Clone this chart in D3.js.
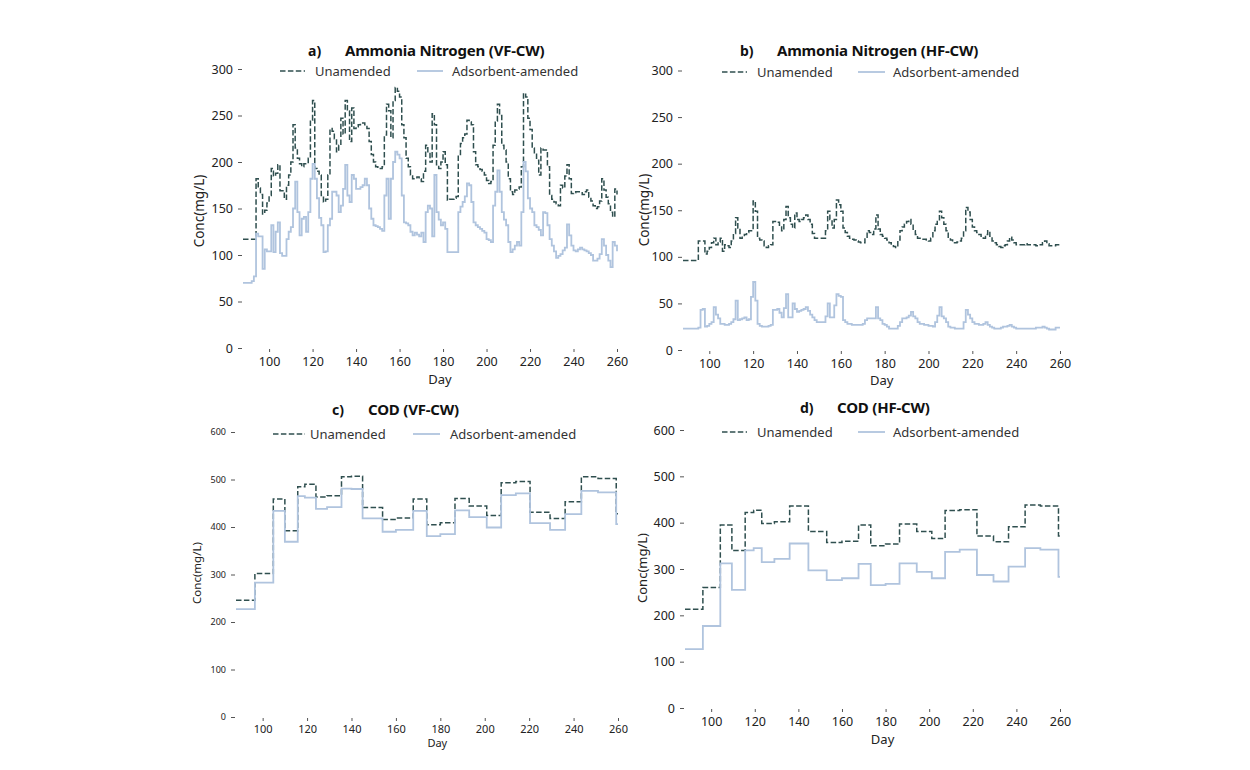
<!DOCTYPE html>
<html>
<head>
<meta charset="utf-8">
<script src="https://cdn.jsdelivr.net/npm/d3@7"></script>
<style>
body { margin: 0; background: #fff; }
svg { display: block; font-family: "Noto Sans", "Open Sans", sans-serif; }
</style>
</head>
<body>
<svg id="chart" width="1250" height="770"></svg>
<script>
// daily readings, day 88 to 260, shared by both ammonia panels
const ammoniaDays = [88,89,90,91,92,93,94,95,96,97,98,99,100,101,102,103,104,105,106,107,
  108,109,110,111,112,113,114,115,116,117,118,119,120,121,122,123,124,125,126,127,
  128,129,130,131,132,133,134,135,136,137,138,139,140,141,142,143,144,145,146,147,
  148,149,150,151,152,153,154,155,156,157,158,159,160,161,162,163,164,165,166,167,
  168,169,170,171,172,173,174,175,176,177,178,179,180,181,182,183,184,185,186,187,
  188,189,190,191,192,193,194,195,196,197,198,199,200,201,202,203,204,205,206,207,
  208,209,210,211,212,213,214,215,216,217,218,219,220,221,222,223,224,225,226,227,
  228,229,230,231,232,233,234,235,236,237,238,239,240,241,242,243,244,245,246,247,
  248,249,250,251,252,253,254,255,256,257,258,259,260];

const vfAmmoniaUnamended = [117,117,117,117,117,117,182,172,165,144,
  148,156,164,193,185,188,197,169,169,160,
  175,186,200,240,215,204,198,195,198,198,
  204,245,266,193,190,186,164,157,160,186,
  236,233,225,211,218,247,230,266,255,222,
  258,236,238,240,242,242,240,236,222,208,
  200,195,193,193,195,229,262,255,226,266,
  280,276,270,240,226,204,195,186,182,183,
  184,182,179,190,218,210,200,252,240,197,
  193,200,211,197,159,160,160,161,163,208,
  220,226,230,245,243,240,211,197,195,192,
  190,186,180,177,179,218,244,262,250,218,
  213,200,182,168,165,170,171,173,195,274,
  270,247,235,215,210,202,186,215,213,213,
  195,164,160,157,155,153,175,172,185,197,
  182,166,167,168,168,168,165,168,170,162,
  158,153,150,152,158,182,170,162,155,146,
  141,171,165];
const vfAmmoniaAmended = [70,70,70,70,72,77,123,120,120,85,
  106,104,104,132,103,125,135,102,99,99,
  117,125,130,150,179,146,121,139,141,125,
  146,182,198,182,161,140,132,103,104,132,
  139,168,168,164,146,153,171,197,164,157,
  186,182,171,171,173,175,182,175,150,139,
  132,131,130,128,126,164,182,139,182,200,
  211,208,204,164,135,134,132,125,121,124,
  122,120,124,114,146,153,150,120,186,146,
  138,132,135,128,103,103,103,103,103,146,
  152,157,163,177,175,157,135,132,130,128,
  126,124,117,116,114,153,168,191,168,146,
  138,132,114,103,106,110,114,110,146,200,
  190,161,150,146,132,130,127,121,146,145,
  132,117,110,104,97,99,101,105,108,133,
  121,110,105,104,106,108,106,105,104,102,
  100,94,94,96,101,117,110,100,94,87,
  114,110,104];

const hfAmmoniaUnamended = [96,96,96,96,96,96,96,117,117,117,
  103,106,110,115,120,113,116,120,106,113,
  112,110,117,125,142,131,120,122,124,126,
  128,128,160,149,120,118,117,112,110,112,
  113,138,138,137,132,128,140,154,142,135,
  131,147,140,138,140,142,145,140,135,125,
  120,120,120,120,120,128,149,140,131,140,
  161,156,149,131,126,122,120,119,118,117,
  116,115,115,120,128,126,124,130,145,130,
  124,122,120,118,115,113,111,110,118,128,
  132,135,138,140,135,128,124,120,120,119,
  119,118,117,120,128,135,138,149,142,135,
  128,120,118,115,115,116,117,120,128,153,
  148,140,132,128,126,124,122,120,124,128,
  122,117,115,113,111,110,112,113,117,121,
  118,115,113,113,113,113,114,113,113,113,
  113,112,112,113,115,117,114,112,112,112,
  113,113,113];
const hfAmmoniaAmended = [23,23,23,23,23,23,23,24,43,44,
  25,26,28,30,46,38,34,28,28,27,
  27,28,30,33,53,32,33,34,35,32,
  33,57,73,53,28,26,25,25,25,26,
  27,43,43,44,40,35,45,60,35,35,
  50,44,41,42,43,44,46,42,38,35,
  32,30,30,30,30,36,50,35,35,48,
  60,58,57,32,30,28,28,27,27,27,
  27,27,28,32,34,34,34,34,46,34,
  32,28,27,25,23,23,23,23,26,30,
  34,34,35,37,41,36,34,30,28,28,
  27,27,26,26,25,30,37,46,36,34,
  30,25,24,24,23,23,23,23,30,43,
  38,34,30,28,28,27,27,28,30,27,
  25,24,23,23,23,24,25,25,26,27,
  25,24,23,23,23,23,23,23,23,23,
  23,24,24,24,25,24,23,22,22,22,
  24,24,24];

// COD: days where the weekly step changes
const vfCodDays = [88,96.5,104.8,110,115.8,119,124,129,135.5,140,145,154,160,167.8,173.9,180,186.6,193,200.9,207.4,214,220.4,229.4,236.2,243.5,251,259.2];
const vfCodUnamended = [246,302,459,392,485,490,463,466,506,507,441,416,419,459,405,409,460,444,424,493,496,431,418,453,506,502,428];
const vfCodAmended = [227,283,434,369,465,462,438,442,481,480,418,390,394,434,381,385,435,421,399,467,471,408,394,427,476,473,406];

const hfCodDays = [88,96.2,104.2,109.5,115.6,119.5,123.2,129,136,144.6,153,160,167.6,173.2,180,186.4,194.3,201.2,207.3,214,221.9,229.5,236.4,244,251,259.3];
const hfCodUnamended = [213,260,395,340,422,427,398,402,436,381,357,360,395,350,354,397,381,366,426,428,371,359,391,438,436,371];
const hfCodAmended = [127,177,312,255,340,345,315,322,355,297,276,280,311,265,268,312,294,280,337,342,287,273,305,345,342,283];

const ammoniaTicks = [0,50,100,150,200,250,300];
const codTicks = [0,100,200,300,400,500,600];
const dayTicks = [100,120,140,160,180,200,220,240,260];
const seriesNames = ["Unamended", "Adsorbent-amended"];

const darkColor = "#2f4f4f";
const lightColor = "#b0c4de";

const svg = d3.select("#chart");

const panels = [
  {letter: "a)", title: "Ammonia Nitrogen (VF-CW)", days: ammoniaDays, un: vfAmmoniaUnamended, am: vfAmmoniaAmended,
   yTop: 300, yTicks: ammoniaTicks, x0: 243, x1: 617, y0: 348, y1: 69,
   letterX: 308, titleX: 345, titleY: 56, leg: [280, 305, 315, 417, 443, 452], legY: 71,
   yFont: 12.5, xFont: 12.5, xPad: 5, lab: [204, 211, 13.5], dayY: 384, dayFont: 13},
  {letter: "b)", title: "Ammonia Nitrogen (HF-CW)", days: ammoniaDays, un: hfAmmoniaUnamended, am: hfAmmoniaAmended,
   yTop: 300, yTicks: ammoniaTicks, x0: 683, x1: 1060, y0: 350, y1: 70.5,
   letterX: 740, titleX: 777, titleY: 56, leg: [722, 747, 757, 858, 885, 893], legY: 72,
   yFont: 12.5, xFont: 12.5, xPad: 5, lab: [649, 210, 13.5], dayY: 385, dayFont: 13},
  {letter: "c)", title: "COD (VF-CW)", days: vfCodDays, un: vfCodUnamended, am: vfCodAmended,
   yTop: 600, yTicks: codTicks, x0: 236, x1: 618, y0: 717, y1: 432,
   letterX: 332, titleX: 368, titleY: 415, leg: [273, 305, 310, 413, 440, 450], legY: 434,
   yFont: 9, xFont: 11, xPad: 4, lab: [201, 573, 11.5], dayY: 747, dayFont: 11},
  {letter: "d)", title: "COD (HF-CW)", days: hfCodDays, un: hfCodUnamended, am: hfCodAmended,
   yTop: 600, yTicks: codTicks, x0: 685, x1: 1060, y0: 708, y1: 430,
   letterX: 800, titleX: 837, titleY: 413, leg: [722, 747, 757, 858, 885, 893], legY: 432,
   yFont: 12.5, xFont: 12.5, xPad: 5, lab: [647, 568, 13], dayY: 744, dayFont: 13}
];

function drawPanel(p) {
  const x = d3.scaleLinear().domain([88, 260]).range([p.x0, p.x1]);
  const y = d3.scaleLinear().domain([0, p.yTop]).range([p.y0, p.y1]);
  const g = svg.append("g");

  // y axis, no spine
  const ya = g.append("g")
    .attr("transform", `translate(${p.x0 - 1},0)`)
    .call(d3.axisLeft(y).tickValues(p.yTicks).tickSize(4).tickPadding(5));
  ya.select(".domain").remove();
  ya.selectAll(".tick line").attr("stroke", "#555");
  ya.selectAll(".tick text").attr("fill", "#222").style("font-size", p.yFont + "px").style("font-family", "Noto Sans");

  // x axis
  const xa = g.append("g")
    .attr("transform", `translate(0,${p.y0 + 1})`)
    .call(d3.axisBottom(x).tickValues(dayTicks).tickSize(3).tickPadding(p.xPad));
  xa.select(".domain").remove();
  xa.selectAll(".tick line").attr("stroke", "#555");
  xa.selectAll(".tick text").attr("fill", "#222").style("font-size", p.xFont + "px").style("font-family", "Noto Sans");

  g.append("text")
    .attr("x", (x(100) + x(260)) / 2 - 3)
    .attr("y", p.dayY)
    .attr("text-anchor", "middle")
    .style("font-size", p.dayFont + "px")
    .attr("fill", "#222")
    .text("Day");

  g.append("text")
    .attr("transform", `translate(${p.lab[0]},${p.lab[1]}) rotate(-90)`)
    .attr("text-anchor", "middle")
    .style("font-size", p.lab[2] + "px")
    .attr("fill", "#222")
    .text("Conc(mg/L)");

  // title
  g.append("text")
    .attr("x", p.letterX).attr("y", p.titleY)
    .style("font-size", "14px").style("font-weight", "bold")
    .attr("fill", "#111")
    .text(p.letter);
  g.append("text")
    .attr("x", p.titleX).attr("y", p.titleY)
    .style("font-size", "15px").style("font-weight", "bold")
    .style("letter-spacing", "-0.2px")
    .attr("fill", "#111")
    .text(p.title);

  // series
  let unPts = d3.zip(p.days, p.un);
  let amPts = d3.zip(p.days, p.am);
  if (p.days[p.days.length - 1] < 260) {
    unPts.push([260, p.un[p.un.length - 1]]);
    amPts.push([260, p.am[p.am.length - 1]]);
  }
  const line = d3.line()
    .x(d => x(d[0]))
    .y(d => y(d[1]))
    .curve(d3.curveStepAfter);

  g.append("path")
    .attr("d", line(unPts))
    .attr("fill", "none")
    .attr("stroke", darkColor)
    .attr("stroke-width", 1.5)
    .attr("stroke-dasharray", "5.5,2.4");
  g.append("path")
    .attr("d", line(amPts))
    .attr("fill", "none")
    .attr("stroke", lightColor)
    .attr("stroke-width", 1.8);

  // legend
  const lg = g.append("g");
  lg.append("line")
    .attr("x1", p.leg[0]).attr("x2", p.leg[1]).attr("y1", p.legY).attr("y2", p.legY)
    .attr("stroke", darkColor).attr("stroke-width", 1.5).attr("stroke-dasharray", "5.5,2.4");
  lg.append("text")
    .attr("x", p.leg[2]).attr("y", p.legY + 4.5)
    .style("font-size", "13px").attr("fill", "#333")
    .text(seriesNames[0]);
  lg.append("line")
    .attr("x1", p.leg[3]).attr("x2", p.leg[4]).attr("y1", p.legY).attr("y2", p.legY)
    .attr("stroke", lightColor).attr("stroke-width", 1.8);
  lg.append("text")
    .attr("x", p.leg[5]).attr("y", p.legY + 4.5)
    .style("font-size", "13px").attr("fill", "#333")
    .text(seriesNames[1]);
}

panels.forEach(drawPanel);
</script>
</body>
</html>
